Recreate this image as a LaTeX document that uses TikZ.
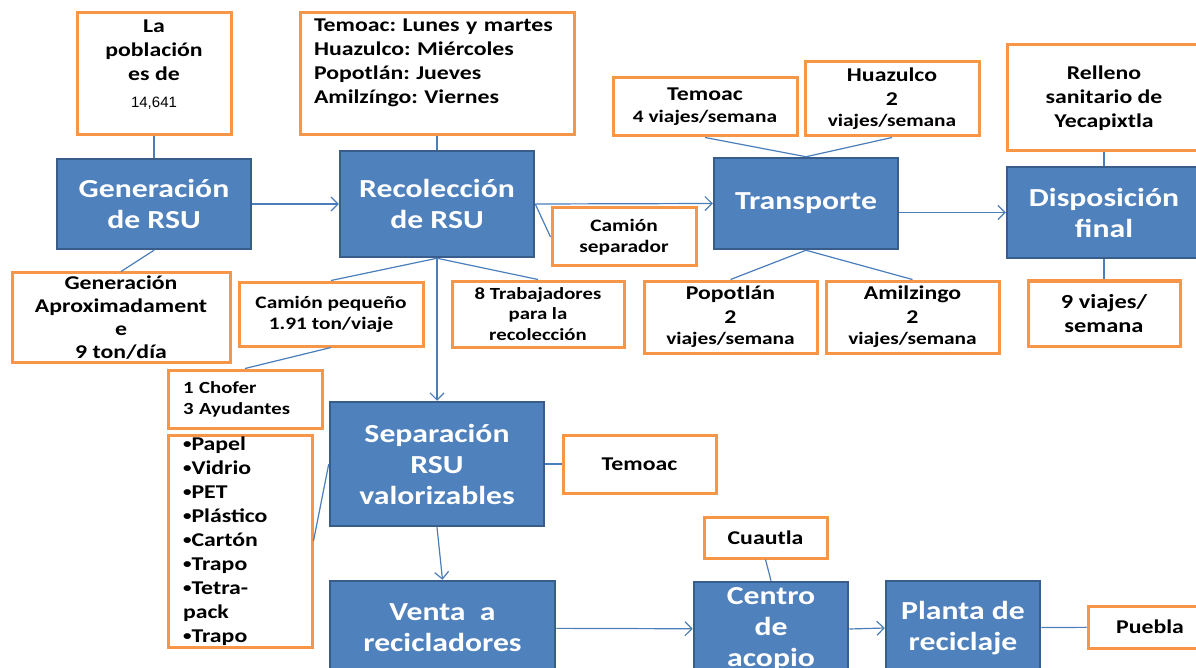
\documentclass[tikz,border=0pt]{standalone}
\usepackage{fontspec}
\setmainfont{Carlito}[FakeStretch=1.22]
\newfontfamily\numfont{Liberation Sans}
\usetikzlibrary{arrows.meta}
\frenchspacing

\definecolor{boxblue}{HTML}{4F81BD}
\definecolor{boxedge}{HTML}{385D8A}
\definecolor{noteorange}{HTML}{F79646}
\definecolor{linkblue}{HTML}{4A7EBB}

\newcommand\stagefont{\fontsize{26}{31}\selectfont\bfseries}
\newcommand\notefont{\fontsize{19.5}{24}\selectfont\bfseries}
\newcommand\smallnote{\fontsize{17.5}{21}\selectfont\bfseries}
\newcommand\dotmark{\raisebox{1.5pt}{\fontsize{14}{14}\selectfont•}}

\begin{document}
\begin{tikzpicture}[x=1pt,y=-1pt,
	stage/.style={draw=boxedge, fill=boxblue, line width=2.5pt, text=white, font=\stagefont, align=center, inner sep=0pt},
	note/.style={draw=noteorange, fill=white, line width=3pt, font=\notefont, align=center, inner sep=0pt},
	sz/.style 2 args={minimum width=#1pt, minimum height=#2pt},
	link/.style={draw=linkblue, line width=1.2pt},
	flow/.style={link, -{Straight Barb[length=7pt,width=14pt]}}]
	\useasboundingbox (0,0) rectangle (1196,668);
	\clip (0,0) rectangle (1196,668);

	\node[stage, sz={194}{90}] (gen) at (154,204) {Generación\\de RSU};
	\node[stage, sz={194}{106}] (rec) at (437,204) {Recolección\\de RSU};
	\node[stage, sz={184}{91}] (tra) at (806,203.5) {Transporte};
	\node[stage, sz={194}{91}] (dis) at (1104,212.5) {Disposición\\final};
	\node[stage, sz={214}{124}] (sep) at (437,464) {Separación\\RSU\\valorizables};
	\node[stage, sz={225}{94}] (ven) at (442.5,628) {Venta\ \ a\\recicladores};
	\node[stage, sz={154}{94}] (cen) at (771,629) {Centro\\de\\acopio};
	\node[stage, sz={154}{94}] (pla) at (963,628) {Planta de\\reciclaje};

	\node[note, sz={154}{122}, text depth=20pt] (pob) at (154,74) {La\\población\\es de\\[3pt]{\numfont\mdseries\fontsize{15}{18}\selectfont 14,641}};
	\node[note, sz={274}{122}, text width=246pt, align=left, text depth=97pt] (dias) at (437,74) {Temoac: Lunes y martes\\Huazulco: Miércoles\\Popotlán: Jueves\\Amilzíngo: Viernes};
	\node[note, sz={184}{58}] (tem) at (705,107) {Temoac\\[-2pt]{\smallnote 4 viajes/semana}};
	\node[note, sz={174}{74}] (hua) at (892,99) {Huazulco\\2\\[-3pt]{\smallnote viajes/semana}};
	\node[note, sz={194}{106}] (rel) at (1104,98) {Relleno\\sanitario de\\Yecapixtla};
	\node[note, sz={144}{58}, font=\smallnote] (csep) at (624,237) {Camión\\separador};
	\node[note, sz={218}{89}, font=\fontsize{19.5}{23}\selectfont\bfseries] (gtot) at (121,317.5) {Generación\\Aproximadament\\e\\9 ton/día};
	\node[note, sz={184}{64}, font=\smallnote] (cpeq) at (331,314) {Camión pequeño\\1.91 ton/viaje};
	\node[note, sz={172}{66}, font=\fontsize{17}{20.5}\selectfont\bfseries] (trab) at (538,314) {8 Trabajadores\\para la\\recolección};
	\node[note, sz={173}{72}] (popo) at (730.5,317) {Popotlán\\2\\[-3pt]{\smallnote viajes/semana}};
	\node[note, sz={173}{72}] (amil) at (912.5,317) {Amilzingo\\2\\[-3pt]{\smallnote viajes/semana}};
	\node[note, sz={152}{65}, font=\fontsize{20}{24}\selectfont\bfseries] (viaj) at (1104,313.5) {9 viajes/\\semana};
	\node[note, sz={154}{58}, text width=124pt, align=left, font=\fontsize{17}{21}\selectfont\bfseries] (chof) at (245,399) {1 Chofer\\3 Ayudantes};
	\node[note, sz={144}{212}, text width=114pt, align=left] (mat) at (240,541) {\dotmark Papel\\\dotmark Vidrio\\\dotmark PET\\\dotmark Plástico\\\dotmark Cartón\\\dotmark Trapo\\\dotmark Tetra-\\pack\\\dotmark Trapo};
	\node[note, sz={153}{58}] (tsep) at (639.5,464) {Temoac};
	\node[note, sz={123}{41}] (cua) at (765.5,537.5) {Cuautla};
	\node[note, sz={124}{42}] (pue) at (1150,627) {Puebla};

	\draw[link] (pob) -- (gen);
	\draw[link] (gen.south) -- (gtot.north);
	\draw[flow] (gen) -- (rec);
	\draw[link] (dias) -- (rec);
	\draw[flow] (rec.east) -- (tra.west);
	\draw[link] (rec.east) -- (csep.west);
	\draw[link] (rec.south) -- (cpeq.north);
	\draw[link] (rec.south) -- (trab.north);
	\draw[flow] (rec) -- (sep);
	\draw[link] (cpeq.south) -- (chof.north);
	\draw[link] (mat.east) -- (sep.west);
	\draw[link] (sep) -- (tsep);
	\draw[flow] (sep.south) -- (ven.north);
	\draw[link] (tem.south) -- (tra.north);
	\draw[link] (hua.south) -- (tra.north);
	\draw[link] (tra.south) -- (popo.north);
	\draw[link] (tra.south) -- (amil.north);
	\draw[flow] (tra.east |- dis.west) -- (dis.west);
	\draw[link] (rel) -- (dis);
	\draw[link] (dis) -- (viaj);
	\draw[flow] (ven) -- (cen);
	\draw[flow] (cen.east) -- (pla.west);
	\draw[link] (cua.south) -- (cen.north);
	\draw[link] (pla) -- (pue);
\end{tikzpicture}
\end{document}
